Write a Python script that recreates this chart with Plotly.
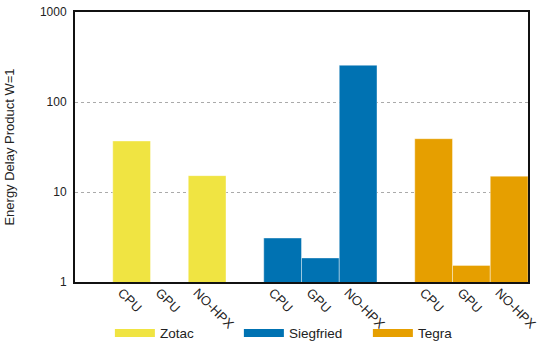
import plotly.graph_objects as go

# Data
categories = ["CPU", "GPU", "NO-HPX"]
systems = ["Zotac", "Siegfried", "Tegra"]
zotac_vals = [36.9, None, 15.2]
siegfried_vals = [3.08, 1.85, 256]
tegra_vals = [39.1, 1.53, 15.0]
series_vals = [zotac_vals, siegfried_vals, tegra_vals]
colors = ["#f0e442", "#0072b2", "#e69f00"]
y_ticks = [1, 10, 100, 1000]
y_tick_labels = ["1", "10", "100", "1000"]

font_family = "Liberation Sans, Arial, sans-serif"

fig = go.Figure()
tickvals = []
ticktext = []
for gi, (name, vals, col) in enumerate(zip(systems, series_vals, colors)):
    xs = [gi * 4 + 1 + i for i in range(len(categories))]
    tickvals += xs
    ticktext += categories
    fig.add_trace(go.Bar(
        x=xs, y=vals, width=1, name=name,
        marker=dict(color=col, line=dict(color="rgba(255,255,255,0.5)", width=0.8)),
        showlegend=False,
    ))
    # legend entry with wide swatch
    fig.add_trace(go.Scatter(
        x=[None], y=[None], mode="lines", name=name,
        line=dict(color=col, width=8), showlegend=True,
    ))

fig.update_layout(
    width=542, height=354,
    margin=dict(l=75, r=14, t=12, b=72, autoexpand=False),
    paper_bgcolor="white", plot_bgcolor="white",
    barmode="overlay",
    font=dict(family=font_family, size=12, color="#222"),
    showlegend=True,
    legend=dict(
        orientation="h", x=0.077, xanchor="left", y=-0.19, yanchor="middle",
        font=dict(size=13.5, color="#222"), itemwidth=40, entrywidth=74,
        bgcolor="rgba(0,0,0,0)", tracegroupgap=0,
    ),
)
fig.update_xaxes(
    range=[-0.5, 11.5], tickmode="array", tickvals=tickvals, ticktext=ticktext,
    tickangle=45, showgrid=False, zeroline=False, automargin=False,
    showline=True, linecolor="#111", linewidth=2, mirror=True,
    ticks="", tickfont=dict(size=13, color="#222"),
    ticklabelshift=-10, ticklabelstandoff=-4,
)
fig.update_yaxes(
    type="log", range=[0, 3], tickmode="array", tickvals=y_ticks, ticktext=y_tick_labels,
    showgrid=True, gridcolor="#aaa", griddash="dot", gridwidth=1, automargin=False,
    showline=True, linecolor="#111", linewidth=2, mirror=True,
    ticks="", ticklabelstandoff=4, tickfont=dict(size=12, color="#222"),
    title=dict(text="Energy Delay Product W=1", font=dict(size=13, color="#222"), standoff=22),
)

fig.write_html("out.html")
